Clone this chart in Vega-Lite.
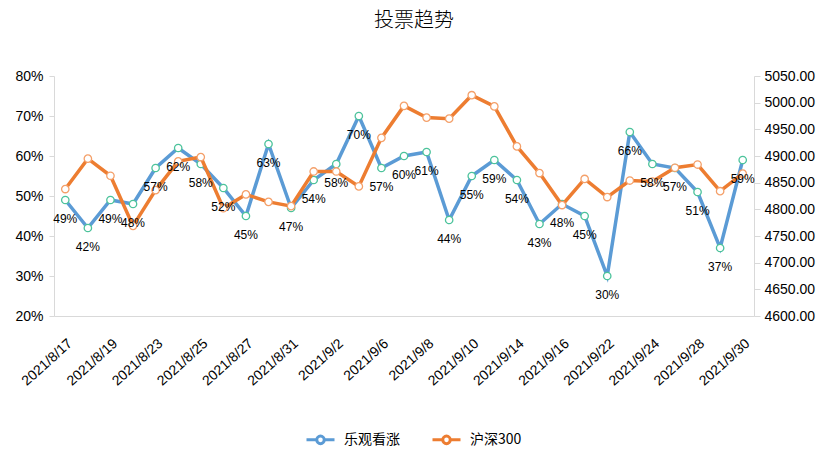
{
  "$schema": "https://vega.github.io/schema/vega-lite/v6.json",
  "width": 700,
  "height": 240,
  "autosize": {"type": "none"},
  "padding": {"left": 54, "top": 76, "right": 73, "bottom": 157},
  "background": "white",
  "title": {
    "text": "投票趋势",
    "font": "Noto Sans CJK SC",
    "fontSize": 20,
    "fontWeight": 300,
    "color": "#000000",
    "anchor": "middle",
    "frame": "group",
    "dx": 10,
    "offset": 38
  },
  "config": {
    "view": {"stroke": null},
    "axis": {"grid": false, "labelFont": "Liberation Sans", "labelColor": "#000000", "domainColor": "#d9d9d9", "tickColor": "#d9d9d9"}
  },
  "data": {
    "values": [
      {"date": "2021/8/17", "pct": 0.49, "hs": 4838},
      {"date": "2021/8/18", "pct": 0.42, "hs": 4895},
      {"date": "2021/8/19", "pct": 0.49, "hs": 4863},
      {"date": "2021/8/20", "pct": 0.48, "hs": 4769},
      {"date": "2021/8/23", "pct": 0.57, "hs": 4836},
      {"date": "2021/8/24", "pct": 0.62, "hs": 4890},
      {"date": "2021/8/25", "pct": 0.58, "hs": 4898},
      {"date": "2021/8/26", "pct": 0.52, "hs": 4802},
      {"date": "2021/8/27", "pct": 0.45, "hs": 4828},
      {"date": "2021/8/30", "pct": 0.63, "hs": 4814},
      {"date": "2021/8/31", "pct": 0.47, "hs": 4806},
      {"date": "2021/9/1", "pct": 0.54, "hs": 4871},
      {"date": "2021/9/2", "pct": 0.58, "hs": 4871},
      {"date": "2021/9/3", "pct": 0.70, "hs": 4843},
      {"date": "2021/9/6", "pct": 0.57, "hs": 4934},
      {"date": "2021/9/7", "pct": 0.60, "hs": 4994},
      {"date": "2021/9/8", "pct": 0.61, "hs": 4972},
      {"date": "2021/9/9", "pct": 0.44, "hs": 4970},
      {"date": "2021/9/10", "pct": 0.55, "hs": 5014},
      {"date": "2021/9/13", "pct": 0.59, "hs": 4993},
      {"date": "2021/9/14", "pct": 0.54, "hs": 4918},
      {"date": "2021/9/15", "pct": 0.43, "hs": 4868},
      {"date": "2021/9/16", "pct": 0.48, "hs": 4808},
      {"date": "2021/9/17", "pct": 0.45, "hs": 4857},
      {"date": "2021/9/22", "pct": 0.30, "hs": 4823},
      {"date": "2021/9/23", "pct": 0.66, "hs": 4854},
      {"date": "2021/9/24", "pct": 0.58, "hs": 4852},
      {"date": "2021/9/27", "pct": 0.57, "hs": 4878},
      {"date": "2021/9/28", "pct": 0.51, "hs": 4884},
      {"date": "2021/9/29", "pct": 0.37, "hs": 4834},
      {"date": "2021/9/30", "pct": 0.59, "hs": 4867}
    ]
  },
  "encoding": {
    "x": {
      "field": "date",
      "type": "ordinal",
      "sort": null,
      "scale": {"type": "point", "padding": 0.5},
      "axis": {
        "title": null,
        "values": ["2021/8/17", "2021/8/19", "2021/8/23", "2021/8/25", "2021/8/27", "2021/8/31", "2021/9/2", "2021/9/6", "2021/9/8", "2021/9/10", "2021/9/14", "2021/9/16", "2021/9/22", "2021/9/24", "2021/9/28", "2021/9/30"],
        "labelAngle": -42,
        "labelFontSize": 14,
        "labelPadding": 20,
        "ticks": false,
        "domainColor": "#d9d9d9"
      }
    }
  },
  "layer": [
    {
      "mark": {"type": "line", "strokeWidth": 3.5},
      "encoding": {
        "y": {"field": "pct", "type": "quantitative", "scale": {"domain": [0.2, 0.8]},
          "axis": {"title": null, "orient": "left", "format": ".0%", "values": [0.2, 0.3, 0.4, 0.5, 0.6, 0.7, 0.8], "labelFontSize": 14, "tickSize": 5, "labelPadding": 6}},
        "color": {
          "datum": "乐观看涨",
          "scale": {"domain": ["乐观看涨", "沪深300"], "range": ["#5B9BD5", "#ED7D31"]},
          "legend": {
            "title": null,
            "orient": "none",
            "direction": "horizontal",
            "legendX": 251,
            "legendY": 348,
            "symbolType": "M-1,0L-0.27,0M0.27,0L1,0M0.27,0A0.27,0.27,0,1,1,-0.27,0A0.27,0.27,0,1,1,0.27,0Z",
            "symbolSize": 784,
            "symbolStrokeWidth": 3,
            "labelFont": "Noto Sans CJK SC",
            "labelFontSize": 14,
            "labelColor": "#000000",
            "labelOffset": 8,
            "columnPadding": 26,
            "encode": {"symbols": {"update": {"fill": {"value": "white"}, "opacity": {"value": 1}}}}
          }
        }
      }
    },
    {
      "mark": {"type": "point", "filled": true, "fill": "white", "stroke": "#4CC39B", "strokeWidth": 1.3, "size": 55, "opacity": 1},
      "encoding": {"y": {"field": "pct", "type": "quantitative", "scale": {"domain": [0.2, 0.8]}, "axis": null}}
    },
    {
      "mark": {"type": "line", "strokeWidth": 3.5},
      "encoding": {
        "y": {"field": "hs", "type": "quantitative", "scale": {"domain": [4600, 5050], "zero": false},
          "axis": {"title": null, "orient": "right", "format": ".2f", "values": [4600, 4650, 4700, 4750, 4800, 4850, 4900, 4950, 5000, 5050], "labelFontSize": 14, "tickSize": 6, "labelPadding": 4}},
        "color": {"datum": "沪深300"}
      }
    },
    {
      "mark": {"type": "point", "filled": true, "fill": "white", "stroke": "#F4A06A", "strokeWidth": 1.3, "size": 55, "opacity": 1},
      "encoding": {"y": {"field": "hs", "type": "quantitative", "scale": {"domain": [4600, 5050], "zero": false}, "axis": null}}
    },
    {
      "mark": {"type": "text", "dy": 19, "fontSize": 12, "font": "Liberation Sans", "color": "#000000"},
      "encoding": {
        "y": {"field": "pct", "type": "quantitative", "scale": {"domain": [0.2, 0.8]}, "axis": null},
        "text": {"field": "pct", "type": "quantitative", "format": ".0%"}
      }
    }
  ],
  "resolve": {"scale": {"y": "independent", "color": "shared"}}
}
